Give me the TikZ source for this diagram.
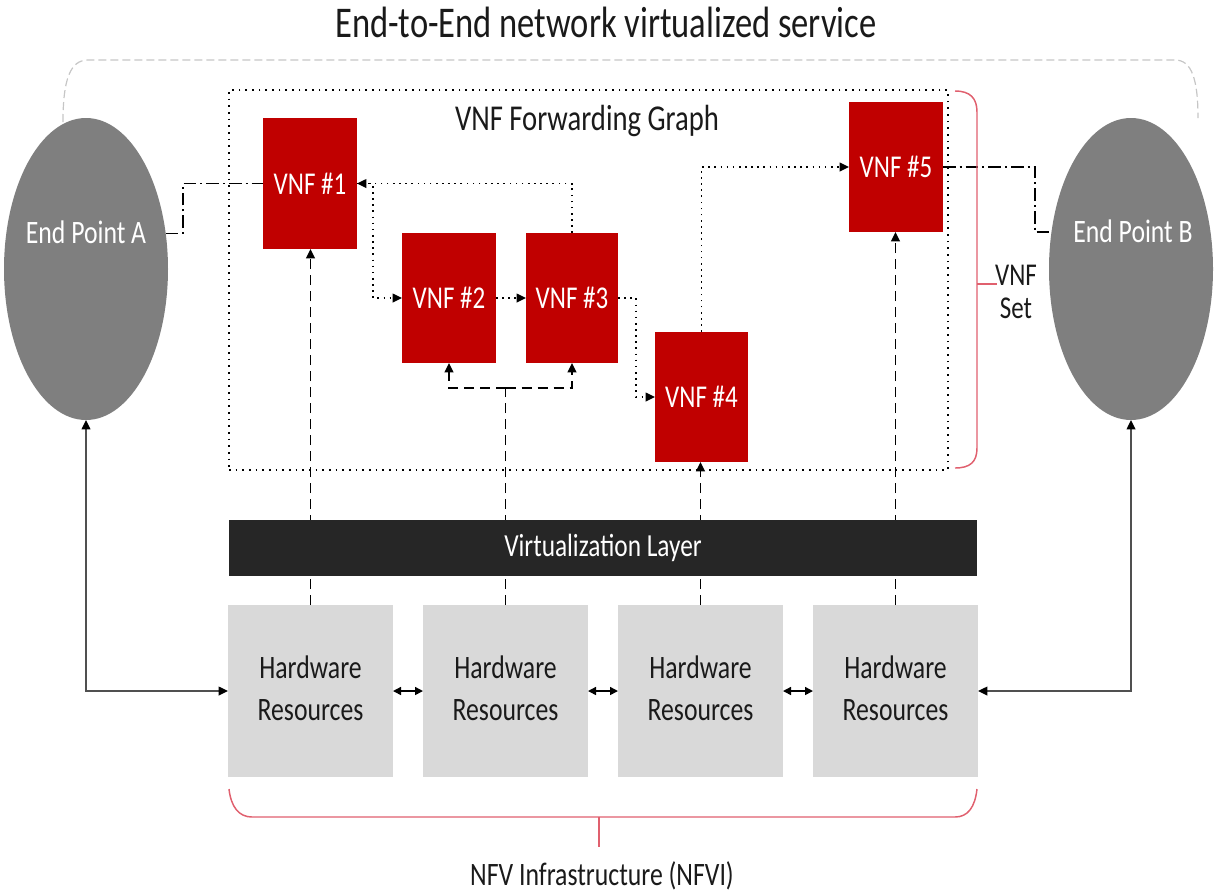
\documentclass[tikz,border=0pt]{standalone}
\usepackage{fontspec}
\setmainfont{Carlito}
\usepackage{graphicx}
\usetikzlibrary{arrows.meta,shapes.geometric,calc}

\definecolor{vnfred}{HTML}{C00000}
\definecolor{epgray}{HTML}{7F7F7F}
\definecolor{hwgray}{HTML}{D9D9D9}
\definecolor{layerblk}{HTML}{262626}
\definecolor{brkred}{HTML}{E0606E}
\definecolor{edgegray}{HTML}{C6C6C6}
\definecolor{linkgray}{HTML}{505050}
\definecolor{inkblk}{HTML}{1A1A1A}

\newcommand{\pxu}{0.75pt}
\newcommand{\tallt}[1]{\scalebox{1}[1.27]{#1}}
\newcommand{\setfs}[2]{\fontsize{#1}{#2}\selectfont}

\tikzset{
  tip/.style={-{Triangle[length=7pt,width=6.5pt]}},
  vnf/.style={rectangle, fill=vnfred, text=white, inner sep=0pt, outer sep=0pt,
    minimum width=94*\pxu, minimum height=130*\pxu, font=\setfs{18.75}{22}},
  hwbox/.style={rectangle, fill=hwgray, text=inkblk, inner sep=0pt, outer sep=0pt,
    minimum width=165*\pxu, minimum height=172*\pxu, font=\setfs{19.3}{24.8}},
  endpt/.style={ellipse, fill=epgray, inner sep=0pt, outer sep=0pt,
    minimum width=164*\pxu, minimum height=302*\pxu},
  eplabel/.style={anchor=base, text=white, inner sep=0pt, font=\setfs{19.3}{23}},
  caption/.style={anchor=base, inner sep=0pt, text=inkblk},
  layerbar/.style={rectangle, fill=layerblk, text=white, inner sep=0pt, outer sep=0pt,
    minimum width=748*\pxu, minimum height=56*\pxu, font=\setfs{19}{23}},
  fgbox/.style={rectangle, draw=black, line width=1.1pt, dash pattern=on 1.2pt off 3.8pt,
    inner sep=0pt, outer sep=0pt, minimum width=719*\pxu, minimum height=380*\pxu},
  flowline/.style={line width=1.1pt, dash pattern=on 1.2pt off 3.4pt},
  flow/.style={flowline, tip},
  vtrunk/.style={line width=1.2pt, dash pattern=on 7.5pt off 4.5pt},
  vlink/.style={vtrunk, tip},
  dashdot/.style={line width=1.2pt, dash pattern=on 9.5pt off 3pt on 1.5pt off 3pt},
  hwlink/.style={line width=1.1pt, draw=linkgray,
    {Triangle[length=7pt,width=6.5pt,black]}-{Triangle[length=7pt,width=6.5pt,black]}},
  biarrow/.style={line width=1.1pt,
    {Triangle[length=6pt,width=6pt]}-{Triangle[length=6pt,width=6pt]}},
  brk/.style={draw=brkred, line width=1.1pt},
  outline/.style={draw=edgegray, line width=0.9pt, dash pattern=on 6pt off 3pt}
}

\begin{document}
\begin{tikzpicture}[x=0.75pt,y=-0.75pt]
\useasboundingbox (0,0) rectangle (1214,894);

% title and the end-to-end service outline
\node[caption, font=\setfs{25.9}{30}] (title) at (606,37) {\tallt{End-to-End network virtualized service}};
\draw[outline] (63,122) .. controls (63,80) and (70,60) .. (88,60) -- (1175,60)
  .. controls (1192,60) and (1198,80) .. (1198,118);

% end points
\node[endpt] (epA) at (86,269) {};
\node[endpt] (epB) at (1131,269) {};
\node[eplabel] (epAt) at (86,243) {\tallt{End Point A}};
\node[eplabel] (epBt) at (1133,242) {\tallt{End Point B}};

% forwarding graph frame
\node[fgbox] (fg) at (588.5,280) {};
\node[caption, font=\setfs{21.5}{26}] (fgt) at (587,130) {\tallt{VNF Forwarding Graph}};

% virtual network functions
\node[vnf, minimum height=131*\pxu] (v1) at (310,183.5) {\tallt{VNF \#1}};
\node[vnf] (v2) at (449,298) {\tallt{VNF \#2}};
\node[vnf, minimum width=92*\pxu] (v3) at (572,298) {\tallt{VNF \#3}};
\node[vnf, minimum width=93*\pxu] (v4) at (701.5,397) {\tallt{VNF \#4}};
\node[vnf] (v5) at (896,167) {\tallt{VNF \#5}};

% hardware resources
\node[hwbox] (hw1) at (310.5,691) {\tallt{\begin{tabular}{@{}c@{}}Hardware\\Resources\end{tabular}}};
\node[hwbox] (hw2) at (505.5,691) {\tallt{\begin{tabular}{@{}c@{}}Hardware\\Resources\end{tabular}}};
\node[hwbox] (hw3) at (700.5,691) {\tallt{\begin{tabular}{@{}c@{}}Hardware\\Resources\end{tabular}}};
\node[hwbox] (hw4) at (895.5,691) {\tallt{\begin{tabular}{@{}c@{}}Hardware\\Resources\end{tabular}}};

% forwarding path between the VNFs
\draw[flow] (v3.north) |- (v1.east);
\draw[flow] (v1.east) -- ++(16,0) |- (v2.west);
\draw[flow] (v2.east) -- (v3.west);
\draw[flow] (v3.east) -- ++(18,0) |- (v4.west);
\draw[flow] (v4.north) |- (v5.west);

% end points attached to the chain
\draw[dashdot] (epA.24) -| ($(v1.west)+(-80,0)$) -- (v1.west);
\draw[dashdot] (v5.east) -- ++(92,0) |- (epB.155);

% hardware mapped up to the VNFs
\coordinate (j2) at (505.5,388);
\draw[vlink] (hw1.north) -- (hw1.north |- v1.south);
\draw[vtrunk] (hw2.north) -- (j2);
\draw[vlink] (j2) -| (v2.south);
\draw[vlink] (j2) -| (v3.south);
\draw[vlink] (hw3.north) -- (hw3.north |- v4.south);
\draw[vlink] (hw4.north) -- (hw4.north |- v5.south);

% virtualization layer
\node[layerbar] (vl) at (603,548) {\tallt{Virtualization Layer}};

% links between hardware and to the end points
\draw[biarrow] (hw1.east) -- (hw2.west);
\draw[biarrow] (hw2.east) -- (hw3.west);
\draw[biarrow] (hw3.east) -- (hw4.west);
\draw[hwlink] (epA.south) |- (hw1.west);
\draw[hwlink] (epB.south) |- (hw4.east);

% VNF set brace
\draw[brk] (955,91) .. controls (970,91) and (977,98) .. (977,112) -- (977,448)
  .. controls (977,462) and (970,468) .. (955,468);
\draw[brk] (977,284) -- (997,284);
\node[caption, font=\setfs{18.75}{19.5}] (vset) at (1016,285)
  {\tallt{\begin{tabular}[t]{@{}c@{}}VNF\\Set\end{tabular}}};

% NFVI brace
\draw[brk] (229,789) .. controls (231,807) and (239,817) .. (252,817) -- (955,817)
  .. controls (968,817) and (975,807) .. (977,789);
\draw[brk] (599,817) -- (599,847);
\node[caption, font=\setfs{19.3}{23}] (nfvi) at (602,885) {\tallt{NFV Infrastructure (NFVI)}};
\end{tikzpicture}
\end{document}
